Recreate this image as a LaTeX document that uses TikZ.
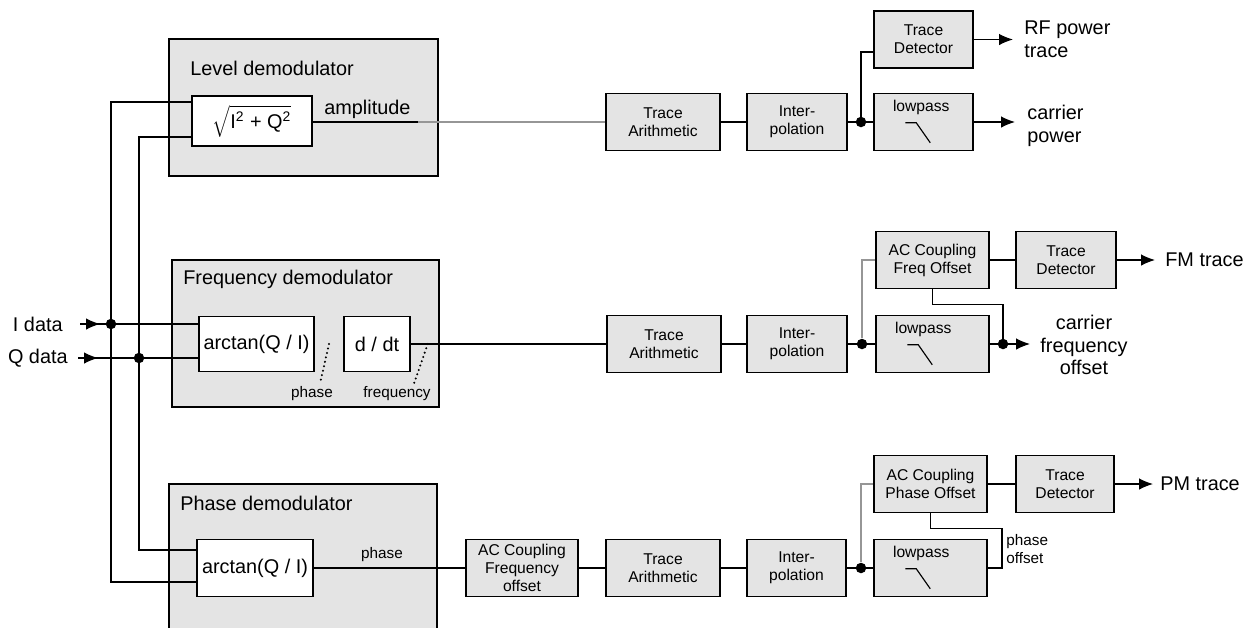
\documentclass[tikz,border=0pt]{standalone}
\usepackage{fontspec}
\setmainfont{Liberation Sans}
\usetikzlibrary{calc, positioning, arrows.meta}
\definecolor{boxgray}{RGB}{228,228,228}
\definecolor{wiregray}{RGB}{150,150,150}
\newcommand{\lbfont}{\fontsize{11.3}{13}\selectfont}
\newcommand{\bxfont}{\fontsize{8.9}{10.2}\selectfont}
\newcommand{\smfont}{\fontsize{8.7}{9.8}\selectfont}
\newcommand{\lowpassmark}[1]{%
  \node[bxtext] (#1txt) at ($(#1.north west)+(48,15)$) {lowpass};
  \draw[wire] ($(#1.north west)+(32,30)$) -- ++(11,0) -- ++(14,20);}

\begin{document}
\begin{tikzpicture}[x=0.02cm, y=-0.02cm, >={Latex[length=2.8mm,width=2.3mm]},
    wire/.style={line width=0.65pt},
    demod/.style={draw, fill=boxgray, line width=0.85pt, inner sep=0pt},
    op/.style={draw, fill=white, line width=0.85pt, inner sep=0pt, font=\lbfont},
    blk/.style={draw, fill=boxgray, line width=0.85pt, inner sep=0pt, minimum height=1.14cm, align=center, font=\bxfont},
    bxtext/.style={inner sep=0pt, font=\bxfont},
    lbl/.style={inner sep=0pt, font=\lbfont, align=left},
    sml/.style={inner sep=0pt, font=\smfont, align=left},
    jdot/.style={circle, fill, inner sep=0pt, minimum size=0.21cm},
    pointer/.style={line width=1.3pt, line cap=round, dash pattern=on 0pt off 2.6pt}]
    \clip (0,0) rectangle (1254,627);

    \node[demod, minimum width=5.38cm, minimum height=2.74cm] (levdem) at (303.5,107.5) {};
    \node[lbl, anchor=west] (levtitle) at (190,68) {Level demodulator};
    \node[op, minimum width=2.4cm, minimum height=1cm] (sqrtop) at (252,121) {$\sqrt{\mbox{I\textsuperscript{2} + Q\textsuperscript{2}}}$};
    \node[lbl, anchor=west] (ampl) at (324,109) {amplitude};

    \node[demod, minimum width=5.34cm, minimum height=2.94cm] (freqdem) at (305.5,333.5) {};
    \node[lbl, anchor=west] (freqtitle) at (183,279) {Frequency demodulator};
    \node[op, minimum width=2.3cm, minimum height=1.1cm] (atanf) at (256.5,344) {arctan(Q / I)};
    \node[op, minimum width=1.32cm, minimum height=1.1cm] (ddt) at (377,344) {d / dt};
    \node[sml] (phlbl) at (312,394) {phase};
    \node[sml] (frlbl) at (397,394) {frequency};
    \draw[pointer] ($(atanf.east)!0.5!(ddt.west)$) -- ($(phlbl.north)+(8,-3)$);
    \draw[pointer] ($(ddt.east)+(17,0)$) -- ($(frlbl.north)+(17,-3)$);

    \node[demod, minimum width=5.36cm, minimum height=3.52cm] (phdem) at (303,572) {};
    \node[lbl, anchor=west] (phtitle) at (180,503) {Phase demodulator};
    \node[op, minimum width=2.32cm, minimum height=1.14cm] (atanp) at (255,568) {arctan(Q / I)};
    \node[sml] (phlbl2) at (382,555) {phase};

    % inputs
    \node[lbl, anchor=east] (idata) at (63,324) {I data};
    \node[lbl, anchor=east] (qdata) at (68,358) {Q data};
    \coordinate (iin) at (80,324);
    \coordinate (qin) at (78,358);
    \node[jdot] (idot) at (111,324) {};
    \node[jdot] (qdot) at (139,358) {};
    \draw[wire] (iin) -- (iin -| atanf.west);
    \draw[wire] (qin) -- (qin -| atanf.west);
    \draw[wire, ->] (iin) -- ++(20,0);
    \draw[wire, ->] (qin) -- ++(20,0);
    \draw[wire] (sqrtop.west |- 0,102) -| (idot.center) |- (0,582 -| atanp.west);
    \draw[wire] (sqrtop.west |- 0,137) -| (qdot.center) |- (0,550 -| atanp.west);

    % level path
    \node[blk, minimum width=2.28cm] (ta1) at (663,122) {Trace\\Arithmetic};
    \node[blk, minimum width=2cm] (ip1) at (797,122) {Inter-\\polation};
    \node[jdot] (d1) at (861,122) {};
    \node[blk, minimum width=1.98cm] (td1) at (923.5,39.5) {Trace\\Detector};
    \node[blk, minimum width=1.98cm] (lp1) at (923.5,122) {};
    \lowpassmark{lp1}
    \coordinate (ampbrk) at (418,122);
    \coordinate (rfend) at (1013,39.5);
    \coordinate (cpend) at (1015,122);
    \node[lbl, anchor=west] (rflbl) at (1024,39.5) {RF power\\trace};
    \node[lbl, anchor=west] (cplbl) at (1027,126) {carrier\\power};
    \draw[wire] (sqrtop.east |- ampbrk) -- (ampbrk);
    \draw[wire, draw=wiregray] (ampbrk) -- (ta1);
    \draw[wire] (ta1) -- (ip1);
    \draw[wire] (ip1) -- (d1.center) -- (lp1);
    \draw[wire] (d1.center) |- ([yshift=-0.25cm]td1.west);
    \draw[wire, ->] (td1.east) -- (rfend);
    \draw[wire, ->] (lp1.east) -- (cpend);

    % frequency path
    \node[blk, minimum width=2.28cm] (ta2) at (664,344) {Trace\\Arithmetic};
    \node[blk, minimum width=2cm] (ip2) at (797,344) {Inter-\\polation};
    \node[jdot] (d2) at (862,344) {};
    \node[blk, minimum width=2.26cm] (acf) at (932.5,260) {AC Coupling\\Freq Offset};
    \node[blk, minimum width=2cm] (td2) at (1066,260) {Trace\\Detector};
    \node[blk, minimum width=2.26cm] (lp2) at (932.5,344) {};
    \lowpassmark{lp2}
    \node[jdot] (d2b) at (1003,344) {};
    \coordinate (cfend) at (1030,344);
    \coordinate (fmend) at (1155,260);
    \node[lbl, anchor=west] (fmlbl) at (1165,260) {FM trace};
    \node[lbl, align=center] (cflbl) at (1084,345) {carrier\\frequency\\offset};
    \draw[wire] (ddt.east) -- (ddt.east -| ta2.west);
    \draw[wire] (ta2) -- (ip2);
    \draw[wire] (ip2) -- (d2.center) -- (lp2);
    \draw[wire, draw=wiregray] (d2.north) |- (acf.west);
    \draw[wire] (acf) -- (td2);
    \draw[wire, ->] (td2.east) -- (fmend);
    \draw[wire] (acf.south) -- ++(0,15) -| (d2b.center);
    \draw[wire] (lp2.east) -- (d2b.center);
    \draw[wire, ->] (d2b.center) -- (cfend);

    % phase path
    \node[blk, minimum width=2.24cm] (acfo) at (522,568) {AC Coupling\\Frequency\\offset};
    \node[blk, minimum width=2.28cm] (ta3) at (663,568) {Trace\\Arithmetic};
    \node[blk, minimum width=1.98cm] (ip3) at (796.5,568) {Inter-\\polation};
    \node[jdot] (d3) at (861,568) {};
    \node[blk, minimum width=2.26cm] (acp) at (930.5,484) {AC Coupling\\Phase Offset};
    \node[blk, minimum width=1.96cm] (td3) at (1065,484) {Trace\\Detector};
    \node[blk, minimum width=2.26cm] (lp3) at (930.5,568) {};
    \lowpassmark{lp3}
    \coordinate (phoff) at (1002,568);
    \coordinate (pmend) at (1153,484);
    \node[lbl, anchor=west] (pmlbl) at (1160,484) {PM trace};
    \node[sml, anchor=west] (poflbl) at (1006,549) {phase\\offset};
    \draw[wire] (atanp) -- (acfo);
    \draw[wire] (acfo) -- (ta3);
    \draw[wire] (ta3) -- (ip3);
    \draw[wire] (ip3) -- (d3.center) -- (lp3);
    \draw[wire, draw=wiregray] (d3.north) |- (acp.west);
    \draw[wire] (acp) -- (td3);
    \draw[wire, ->] (td3.east) -- (pmend);
    \draw[wire] (acp.south) -- ++(0,15) -| (phoff) -- (lp3.east);
\end{tikzpicture}
\end{document}
